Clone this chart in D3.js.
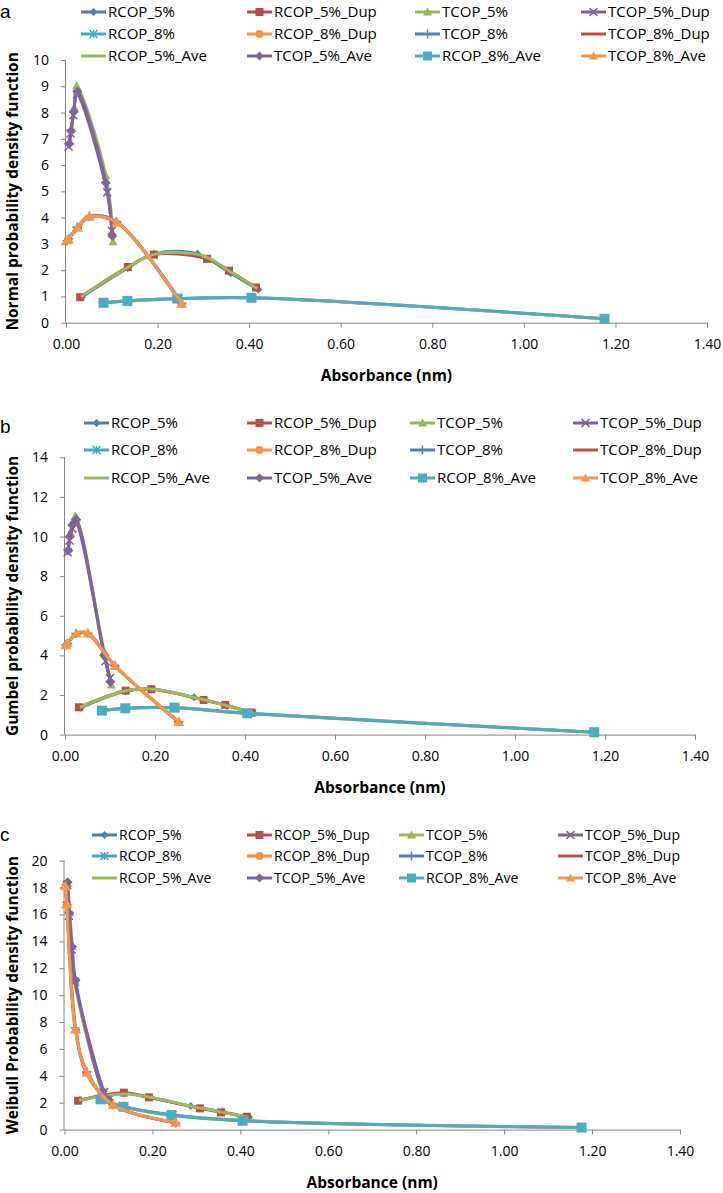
<!DOCTYPE html>
<html>
<head>
<meta charset="utf-8">
<script src="https://cdn.jsdelivr.net/npm/d3@7"></script>
<style>
body { margin: 0; background: #fff; }
text { font-family: "Open Sans", sans-serif; fill: #000; }
</style>
</head>
<body>
<script>
var seriesNames = ["RCOP_5%", "RCOP_5%_Dup", "TCOP_5%", "TCOP_5%_Dup",
    "RCOP_8%", "RCOP_8%_Dup", "TCOP_8%", "TCOP_8%_Dup",
    "RCOP_5%_Ave", "TCOP_5%_Ave", "RCOP_8%_Ave", "TCOP_8%_Ave"];
var xTicks = [0, 0.2, 0.4, 0.6, 0.8, 1.0, 1.2, 1.4];

// absorbance (nm) of each series
var absR5  = [0.035, 0.135, 0.192, 0.287, 0.360, 0.420];
var absR5d = [0.031, 0.135, 0.192, 0.308, 0.356, 0.415];
var absT5  = [0.008, 0.012, 0.018, 0.023, 0.087, 0.103];
var absT5d = [0.006, 0.010, 0.016, 0.024, 0.090, 0.100];
var absR8  = [0.083, 0.134, 0.246, 0.406, 1.177];
var absR8d = [0.080, 0.132, 0.240, 0.403, 1.175];
var absT8  = [0.002, 0.006, 0.024, 0.051, 0.110, 0.253];
var absT8d = [0.003, 0.005, 0.026, 0.050, 0.112, 0.252];
var absR5a = [0.033, 0.135, 0.192, 0.297, 0.358, 0.418];
var absT5a = [0.007, 0.011, 0.017, 0.025, 0.087, 0.101];
var absR8a = [0.082, 0.134, 0.243, 0.405, 1.176];
var absT8a = [0.002, 0.005, 0.025, 0.051, 0.111, 0.253];
var absList = [absR5, absR5d, absT5, absT5d, absR8, absR8d, absT8, absT8d, absR5a, absT5a, absR8a, absT8a];

// a: normal pdf
var normR5  = [0.98, 2.08, 2.62, 2.62, 1.88, 1.26];
var normR5d = [0.97, 2.12, 2.59, 2.43, 1.98, 1.34];
var normT5  = [6.9, 7.4, 8.2, 9.02, 5.6, 3.08];
var normT5d = [6.7, 7.2, 7.9, 8.7, 4.96, 3.5];
var normR8  = [0.77, 0.84, 0.92, 0.95, 0.15];
var normR8d = [0.75, 0.82, 0.90, 0.94, 0.15];
var normT8  = [3.12, 3.2, 3.63, 4.05, 3.85, 0.74];
var normT8d = [3.1, 3.18, 3.6, 4.03, 3.8, 0.72];
var normR5a = [0.99, 2.10, 2.60, 2.56, 1.95, 1.30];
var normT5a = [6.8, 7.3, 8.03, 8.8, 5.33, 3.3];
var normR8a = [0.76, 0.83, 0.92, 0.95, 0.15];
var normT8a = [3.14, 3.17, 3.62, 4.04, 3.82, 0.73];

// b: gumbel pdf
var gumR5  = [1.36, 2.2, 2.3, 1.88, 1.45, 1.08];
var gumR5d = [1.38, 2.22, 2.29, 1.75, 1.5, 1.11];
var gumT5  = [9.4, 10.2, 10.8, 11.05, 4.2, 2.5];
var gumT5d = [9.2, 9.8, 10.4, 10.7, 3.7, 2.85];
var gumR8  = [1.22, 1.32, 1.36, 1.08, 0.12];
var gumR8d = [1.2, 1.33, 1.35, 1.06, 0.12];
var gumT8  = [4.52, 4.6, 5.1, 5.12, 3.5, 0.65];
var gumT8d = [4.5, 4.58, 5.08, 5.1, 3.45, 0.63];
var gumR5a = [1.37, 2.21, 2.3, 1.82, 1.47, 1.1];
var gumT5a = [9.3, 10.0, 10.6, 10.85, 4.0, 2.67];
var gumR8a = [1.21, 1.33, 1.36, 1.07, 0.12];
var gumT8a = [4.52, 4.6, 5.11, 5.11, 3.47, 0.64];

// c: weibull pdf
var weiR5  = [2.2, 2.7, 2.4, 1.75, 1.32, 0.92];
var weiR5d = [2.15, 2.75, 2.4, 1.58, 1.28, 0.96];
var weiT5  = [18.3, 16.1, 13.6, 11.1, 2.9, 2.2];
var weiT5d = [18.2, 15.9, 13.4, 11.0, 2.8, 2.2];
var weiR8  = [2.3, 1.72, 1.1, 0.68, 0.15];
var weiR8d = [2.2, 1.7, 1.06, 0.65, 0.15];
var weiT8  = [18.0, 16.7, 7.55, 4.3, 1.85, 0.5];
var weiT8d = [18.2, 16.9, 7.4, 4.2, 1.8, 0.52];
var weiR5a = [2.18, 2.65, 2.42, 1.68, 1.3, 0.92];
var weiT5a = [18.4, 16.1, 13.6, 11.1, 2.85, 2.2];
var weiR8a = [2.25, 1.7, 1.08, 0.66, 0.15];
var weiT8a = [18.1, 16.77, 7.46, 4.23, 1.83, 0.52];

// styles
var lineColors = ["#4A7EBB", "#BE4B48", "#98B954", "#7D60A0", "#46AAC5", "#F69240",
    "#4F81BD", "#C0504D", "#9BBB59", "#8064A2", "#4BACC6", "#F79646"];
var markerTypes = ["diamond", "square", "triangle", "x", "star", "circle",
    "plus", "dash", "none", "diamond", "square", "triangle"];
var markerSizes = [4, 4, 4.5, 4, 4, 4, 4.5, 4, 0, 5, 5, 5.5];

var panels = [
    { label: "a", labelY: 18, yTitle: "Normal probability density function",
      yMax: 10, yStep: 1, data: [normR5, normR5d, normT5, normT5d, normR8, normR8d, normT8, normT8d, normR5a, normT5a, normR8a, normT8a],
      left: 66, right: 707, top: 60, bottom: 322.7,
      legRows: [12, 34, 56], legCols: [108, 274, 442, 608], legFont: 15 },
    { label: "b", labelY: 433, yTitle: "Gumbel probability density function",
      yMax: 14, yStep: 2, data: [gumR5, gumR5d, gumT5, gumT5d, gumR8, gumR8d, gumT8, gumT8d, gumR5a, gumT5a, gumR8a, gumT8a],
      left: 65, right: 695, top: 457.3, bottom: 734.6,
      legRows: [423, 450, 478], legCols: [111, 274, 437, 600], legFont: 15 },
    { label: "c", labelY: 841, yTitle: "Weibull Probability density function",
      yMax: 20, yStep: 2, data: [weiR5, weiR5d, weiT5, weiT5d, weiR8, weiR8d, weiT8, weiT8d, weiR5a, weiT5a, weiR8a, weiT8a],
      left: 64.5, right: 680, top: 860.7, bottom: 1129.6,
      legRows: [835, 856, 878], legCols: [119, 274, 426, 585], legFont: 14 }
];

d3.selection.prototype.attrs = function (o) {
    var sel = this;
    Object.keys(o).forEach(function (k) { sel.attr(k, o[k]); });
    return sel;
};

var svg = d3.select("body").append("svg")
    .attr("width", 723)
    .attr("height", 1193);

function drawMarker(g, type, color, s, cx, cy) {
    if (type == "none") return;
    var m = g.append("g").attr("transform", "translate(" + cx + "," + cy + ")");
    if (type == "diamond") {
        m.append("path").attr("d", "M0," + (-s) + "L" + s + ",0L0," + s + "L" + (-s) + ",0Z").attr("fill", color);
    } else if (type == "square") {
        m.append("rect").attrs({ x: -s, y: -s, width: 2 * s, height: 2 * s, fill: color });
    } else if (type == "triangle") {
        m.append("path").attr("d", "M0," + (-s) + "L" + s + "," + (s * 0.75) + "L" + (-s) + "," + (s * 0.75) + "Z").attr("fill", color);
    } else if (type == "circle") {
        m.append("circle").attrs({ r: s, fill: color });
    } else if (type == "x" || type == "star") {
        m.append("path").attr("d", "M" + (-s) + "," + (-s) + "L" + s + "," + s + "M" + s + "," + (-s) + "L" + (-s) + "," + s + (type == "star" ? "M0," + (-s) + "L0," + s : ""))
            .attr("stroke", color).attr("stroke-width", 1.5).attr("fill", "none");
    } else if (type == "plus") {
        m.append("path").attr("d", "M" + (-s) + ",0L" + s + ",0M0," + (-s) + "L0," + s)
            .attr("stroke", color).attr("stroke-width", 1.5).attr("fill", "none");
    } else if (type == "dash") {
        m.append("path").attr("d", "M" + (-s) + ",0L" + s + ",0")
            .attr("stroke", color).attr("stroke-width", 2).attr("fill", "none");
    }
}

panels.forEach(function (p) {
    var x = d3.scaleLinear().domain([0, 1.4]).range([p.left, p.right]);
    var y = d3.scaleLinear().domain([0, p.yMax]).range([p.bottom, p.top]);
    var g = svg.append("g");

    // panel letter
    g.append("text").attr("x", 0).attr("y", p.labelY)
        .style("font-family", "'Liberation Sans', sans-serif")
        .style("font-size", "19px").text(p.label);

    // axes
    var yAxis = d3.axisLeft(y).tickValues(d3.range(0, p.yMax + 0.001, p.yStep))
        .tickSize(5).tickPadding(12).tickFormat(d3.format("d"));
    var gy = g.append("g").attr("transform", "translate(" + p.left + ",0)").call(yAxis);
    var xAxis = d3.axisBottom(x).tickValues(xTicks)
        .tickSize(5).tickPadding(11).tickFormat(d3.format(".2f"));
    var gx = g.append("g").attr("transform", "translate(0," + p.bottom + ")").call(xAxis);
    [gx, gy].forEach(function (a) {
        a.select(".domain").attr("stroke", "#868686");
        a.selectAll(".tick line").attr("stroke", "#868686");
        a.selectAll(".tick text").style("font-size", "14px").style("font-family", "'Open Sans', sans-serif").attr("fill", "#000");
    });
    gx.select(".domain").attr("d", "M" + p.left + ",0.5H" + p.right);
    gy.select(".domain").attr("d", "M-0.5," + p.top + "V" + p.bottom);

    // axis titles
    g.append("text").attr("x", (p.left + p.right) / 2).attr("y", p.bottom + 58)
        .attr("text-anchor", "middle").style("font-size", "15.5px").style("font-weight", "bold")
        .text("Absorbance (nm)");
    g.append("text").attr("transform", "translate(17.5," + ((p.top + p.bottom) / 2) + ") rotate(-90)")
        .attr("text-anchor", "middle").style("font-size", "15.5px").style("font-weight", "bold")
        .text(p.yTitle);

    // series
    var line = d3.line().curve(d3.curveCatmullRom.alpha(0.5))
        .x(function (d) { return x(d[0]); })
        .y(function (d) { return y(d[1]); });
    p.data.forEach(function (ys, i) {
        var pts = ys.map(function (v, j) { return [absList[i][j], v]; });
        var sg = g.append("g");
        sg.append("path").datum(pts).attr("d", line)
            .attr("fill", "none").attr("stroke", lineColors[i]).attr("stroke-width", 3)
            .attr("stroke-linejoin", "round");
        pts.forEach(function (d) {
            drawMarker(sg, markerTypes[i], lineColors[i], markerSizes[i], x(d[0]), y(d[1]));
        });
    });

    // legend
    seriesNames.forEach(function (name, i) {
        var row = Math.floor(i / 4), col = i % 4;
        var tx = p.legCols[col], ty = p.legRows[row];
        var lg = g.append("g");
        lg.append("line").attrs({ x1: tx - 27, y1: ty, x2: tx - 2, y2: ty,
            stroke: lineColors[i], "stroke-width": 3 });
        drawMarker(lg, markerTypes[i], lineColors[i], Math.min(markerSizes[i], 4.5), tx - 14.5, ty);
        lg.append("text").attr("x", tx).attr("y", ty).attr("dy", "0.36em")
            .style("font-size", p.legFont + "px").text(name);
    });
});
</script>
</body>
</html>
